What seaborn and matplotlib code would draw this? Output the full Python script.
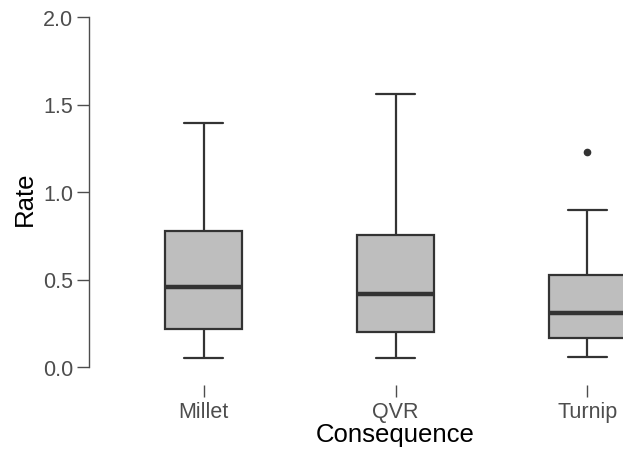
import matplotlib
matplotlib.use("Agg")
import matplotlib.pyplot as plt
import seaborn as sns
import pandas as pd

categories = ["Millet", "QVR", "Turnip"]
millet_rate = [0.05, 0.22, 0.455, 0.775, 1.395]
qvr_rate = [0.05, 0.20, 0.417, 0.756, 1.56]
turnip_rate = [0.058, 0.10, 0.164, 0.24, 0.31, 0.42, 0.526, 0.90, 1.227]
y_ticks = [0.0, 0.5, 1.0, 1.5, 2.0]
y_tick_labels = ["0.0", "0.5", "1.0", "1.5", "2.0"]

rows = []
for cat, vals in zip(categories, [millet_rate, qvr_rate, turnip_rate]):
    for v in vals:
        rows.append({"Consequence": cat, "Rate": v})
df = pd.DataFrame(rows)

sns.set_style("ticks")
plt.rcParams["font.family"] = ["Liberation Sans", "DejaVu Sans"]

fig = plt.figure(figsize=(6.23, 4.52), dpi=100)
# axes extends beyond the right edge of the figure (reference is cropped)
ax = fig.add_axes([89 / 623, 1 - 386 / 452, (702 - 89) / 623, (386 - 12) / 452])

line_col = "#333333"
sns.boxplot(
    data=df, x="Consequence", y="Rate", order=categories, ax=ax,
    color="#BEBEBE", saturation=1, width=0.4, linecolor=line_col, linewidth=1.6,
    medianprops={"linewidth": 3.2, "color": line_col},
    flierprops={"marker": "o", "markersize": 4.5, "markerfacecolor": line_col,
                "markeredgecolor": line_col},
)

ax.set_xlim(-0.597, 2.597)
ax.set_ylim(-18 / 175, 2.0 + 6 / 175)
ax.set_yticks(y_ticks)
ax.set_yticklabels(y_tick_labels)

for s in ["top", "right", "bottom"]:
    ax.spines[s].set_visible(False)
ax.spines["left"].set_bounds(0, 2.0)
ax.spines["left"].set_color("#4d4d4d")
ax.spines["left"].set_linewidth(1.0)

ax.tick_params(axis="both", length=8.5, width=1.0, color="#4d4d4d",
               labelcolor="#4d4d4d", labelsize=15.5, pad=3)

ax.set_xlabel("Consequence", fontsize=18.5, color="black", labelpad=0)
ax.set_ylabel("Rate", fontsize=18.5, color="black", labelpad=4)

fig.savefig("out.png", dpi=100)
